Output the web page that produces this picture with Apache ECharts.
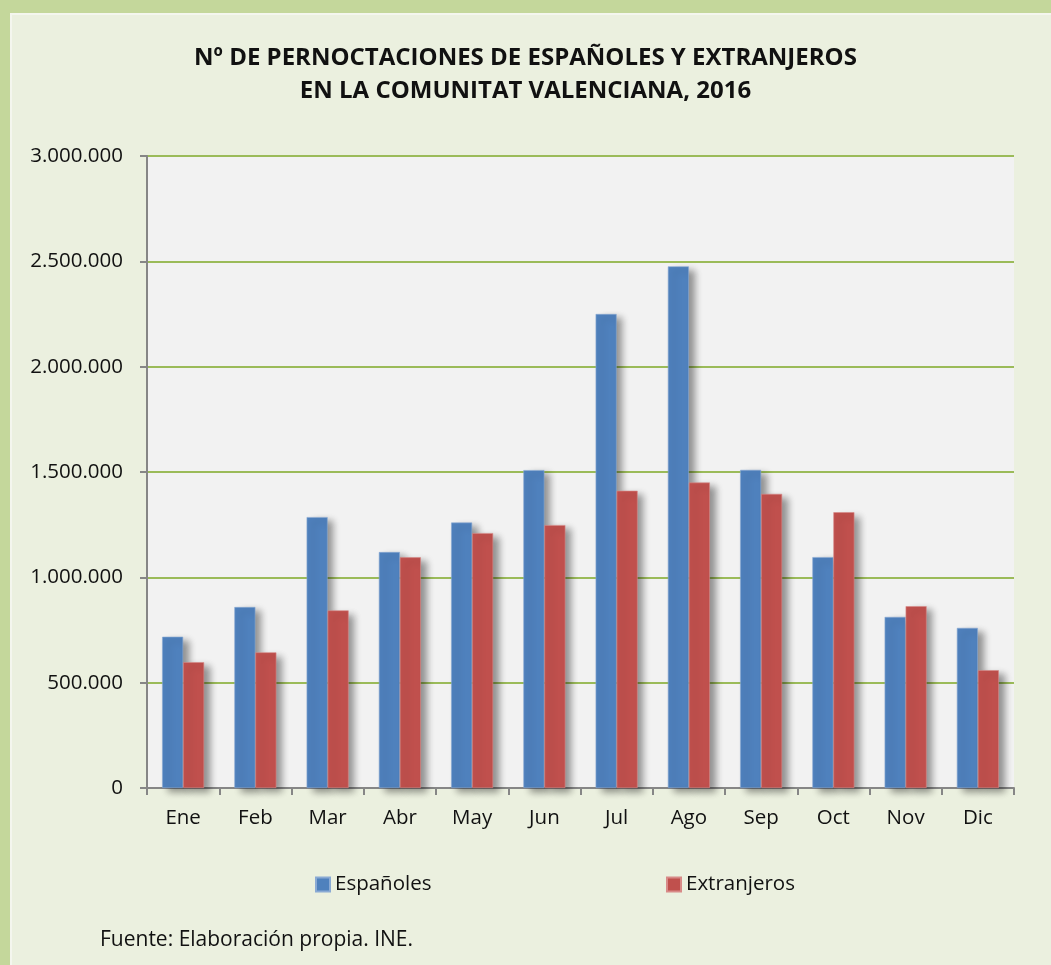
<!DOCTYPE html>
<html>
<head>
<meta charset="utf-8">
<script src="https://cdn.jsdelivr.net/npm/echarts@6/dist/echarts.min.js"></script>
<style>
  html, body { margin: 0; padding: 0; background: #c4d79b; }
  #chart { width: 1051px; height: 965px; }
</style>
</head>
<body>
<div id="chart"></div>
<script>
// datos
const meses = ['Ene','Feb','Mar','Abr','May','Jun','Jul','Ago','Sep','Oct','Nov','Dic']
const espanoles = [718000, 859000, 1286000, 1120000, 1260000, 1509000, 2250000, 2476000, 1510000, 1096000, 812000, 760000]
const extranjeros = [597000, 644000, 843000, 1095000, 1210000, 1248000, 1411000, 1450000, 1396000, 1309000, 863000, 559000]
const titulo = 'Nº DE PERNOCTACIONES DE ESPAÑOLES Y EXTRANJEROS\nEN LA COMUNITAT VALENCIANA, 2016'
const fuente = 'Fuente: Elaboración propia. INE.'

const FONT = '"Open Sans", "Noto Sans", sans-serif'

function miles(v){
    return String(v).replace(/\B(?=(\d{3})+(?!\d))/g, '.')
}

let chart = echarts.init(document.getElementById('chart'))

let option = {
    backgroundColor: '#c4d79b',
    textStyle: {fontFamily: FONT},
    graphic: [
        {type: 'rect', left: 10, top: 13, shape: {width: 1041, height: 952},
         style: {fill: '#ebf0df', stroke: '#f4f6ee', lineWidth: 2}, z: -10},
        {type: 'text', left: 100, top: 930,
         style: {text: fuente, fontSize: 21, fontFamily: FONT, fill: '#111'}}
    ],
    title: {
        text: titulo,
        left: 'center',
        top: 37,
        textStyle: {fontSize: 24, fontWeight: 'bold', fontFamily: FONT, color: '#111', lineHeight: 33}
    },
    legend: [
        {data: ['Españoles'], left: 310, top: 869, icon: 'rect', itemWidth: 14, itemHeight: 14, itemGap: 6,
         textStyle: {fontSize: 20.5, color: '#111', fontFamily: FONT}},
        {data: ['Extranjeros'], left: 661, top: 869, icon: 'rect', itemWidth: 14, itemHeight: 14, itemGap: 6,
         textStyle: {fontSize: 20.5, color: '#111', fontFamily: FONT}}
    ],
    grid: {
        left: 147, top: 156, width: 867, height: 632,
        show: true, backgroundColor: '#f2f2f2', borderWidth: 0
    },
    xAxis: {
        type: 'category',
        data: meses,
        axisLine: {lineStyle: {color: '#868686', width: 2}},
        axisTick: {show: true, length: 7, lineStyle: {color: '#868686', width: 2}},
        axisLabel: {fontSize: 20.5, color: '#111', margin: 20, fontFamily: FONT}
    },
    yAxis: {
        type: 'value',
        min: 0, max: 3000000, interval: 500000,
        axisLine: {show: true, lineStyle: {color: '#868686', width: 2}},
        axisTick: {show: true, length: 7, lineStyle: {color: '#868686', width: 2}},
        splitLine: {lineStyle: {color: '#9bbb59', width: 2}},
        axisLabel: {fontSize: 20.5, color: '#111', margin: 24, fontFamily: FONT, formatter: miles}
    },
    series: [
        {
            name: 'Españoles', type: 'bar', data: espanoles,
            barWidth: 21, barGap: '0%',
            itemStyle: {color: '#4f81bd', shadowColor: 'rgba(0,0,0,0.4)', shadowBlur: 7, shadowOffsetX: 6, shadowOffsetY: 4,
                borderColor: '#8aaad4', borderWidth: 0.6}
        },
        {
            name: 'Extranjeros', type: 'bar', data: extranjeros,
            barWidth: 21,
            itemStyle: {color: '#c0504d', shadowColor: 'rgba(0,0,0,0.4)', shadowBlur: 7, shadowOffsetX: 6, shadowOffsetY: 4,
                borderColor: '#d88a88', borderWidth: 0.6}
        }
    ]
}
chart.setOption(option)
</script>
</body>
</html>
